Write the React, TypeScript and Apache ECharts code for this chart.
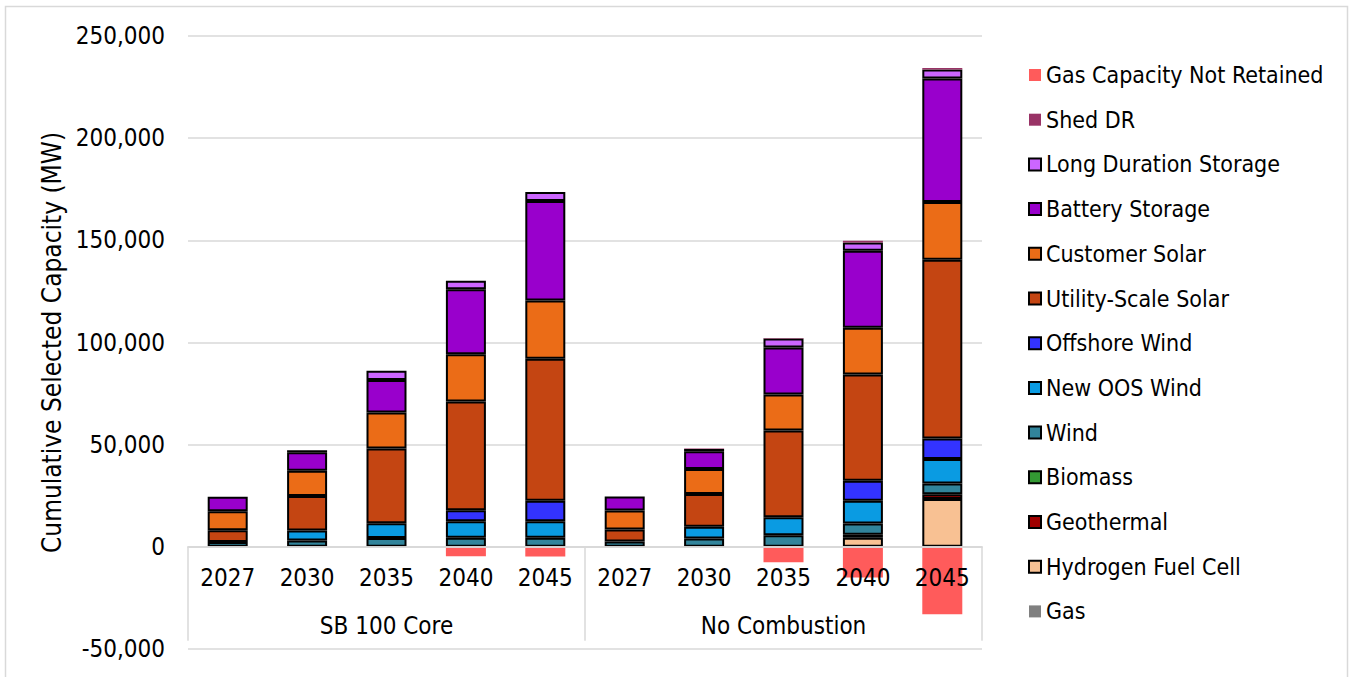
import React, { useEffect, useRef } from 'react';
import * as echarts from 'echarts';

const years = ['2027', '2030', '2035', '2040', '2045'];
const scenarios = ['SB 100 Core', 'No Combustion'];
const yTicks = { min: -50000, max: 250000, interval: 50000 };

// values per category: SB 100 Core 2027..2045, then No Combustion 2027..2045 (MW)
const gas = [0, 0, 0, 0, 0, 0, 0, 0, 0, 0];
const hydrogenFuelCell = [0, 0, 0, 0, 0, 0, 0, 0, 4400, 23400];
const geothermal = [0, 0, 0, 0, 0, 0, 0, 0, 1500, 2300];
const biomass = [0, 0, 0, 0, 0, 0, 0, 0, 0, 0];
const wind = [2400, 3100, 4300, 4400, 4400, 2600, 4100, 5700, 5500, 5300];
const newOosWind = [0, 4900, 7300, 8100, 8100, 0, 5700, 8800, 11200, 12000];
const offshoreWind = [0, 0, 0, 5400, 10000, 0, 0, 0, 9700, 10000];
const utilitySolar = [5700, 16900, 36500, 53200, 69600, 5900, 16000, 42400, 52000, 87500];
const customerSolar = [9300, 12300, 17600, 23100, 28400, 9300, 12300, 17600, 22900, 28200];
const batteryStorage = [7100, 9100, 16000, 31800, 48700, 6800, 8700, 23000, 37700, 60500];
const longDurationStorage = [0, 1000, 4500, 4200, 4400, 0, 1100, 4400, 4100, 4400];
const shedDR = [0, 0, 0, 0, 0, 0, 200, 300, 800, 800];
const gasNotRetained = [0, 0, 0, -4600, -4700, 0, 0, -7600, -15000, -33000];

const seriesDefs = [
  { name: 'Gas', data: gas, color: '#808080', border: false },
  { name: 'Hydrogen Fuel Cell', data: hydrogenFuelCell, color: '#F8C193', border: true },
  { name: 'Geothermal', data: geothermal, color: '#A00000', border: true },
  { name: 'Biomass', data: biomass, color: '#339933', border: true },
  { name: 'Wind', data: wind, color: '#31849B', border: true },
  { name: 'New OOS Wind', data: newOosWind, color: '#0A9BE2', border: true },
  { name: 'Offshore Wind', data: offshoreWind, color: '#3333FF', border: true },
  { name: 'Utility-Scale Solar', data: utilitySolar, color: '#C44512', border: true },
  { name: 'Customer Solar', data: customerSolar, color: '#EB6C17', border: true },
  { name: 'Battery Storage', data: batteryStorage, color: '#9900CC', border: true },
  { name: 'Long Duration Storage', data: longDurationStorage, color: '#CC66FF', border: true },
  { name: 'Shed DR', data: shedDR, color: '#993366', border: false },
  { name: 'Gas Capacity Not Retained', data: gasNotRetained, color: '#FF5B5B', border: false },
];

const FONT = "'DejaVu Sans Condensed', 'Liberation Sans', sans-serif";
const GRID_TOP = 36;
const GRID_BOTTOM = 28;
const CHART_H = 677;

export default function App() {
  const ref = useRef<HTMLDivElement>(null);
  useEffect(() => {
    const chart = echarts.init(ref.current!, null, { renderer: 'svg' });
    const categories = scenarios.flatMap((s) => years.map((y) => s + '|' + y));
    // distance (px) from grid bottom (min value) up to the zero line
    const gridH = CHART_H - GRID_TOP - GRID_BOTTOM;
    const zeroOffset = (gridH * (0 - yTicks.min)) / (yTicks.max - yTicks.min);
    chart.setOption({
      animation: false,
      backgroundColor: '#ffffff',
      textStyle: { fontFamily: FONT },
      grid: {
        left: 188,
        right: 369,
        top: GRID_TOP,
        bottom: GRID_BOTTOM,
        containLabel: false,
        outerBoundsMode: 'none',
      },
      graphic: [
        {
          type: 'rect',
          shape: { x: 5.5, y: 6.5, width: 1342, height: 720 },
          style: { fill: 'none', stroke: '#d9d9d9', lineWidth: 1.5 },
          silent: true,
        },
      ],
      legend: {
        orient: 'vertical',
        left: 1023,
        top: 58,
        icon: 'rect',
        itemWidth: 12,
        itemHeight: 12,
        itemGap: 20.7,
        textStyle: { fontFamily: FONT, fontSize: 23, color: '#000', lineHeight: 24 },
        data: seriesDefs.map((d) => d.name).reverse(),
      },
      xAxis: [
        {
          type: 'category',
          data: categories,
          position: 'bottom',
          offset: -zeroOffset,
          z: 10,
          axisLine: { onZero: false, lineStyle: { color: '#d9d9d9', width: 1.5 } },
          axisTick: { show: false },
          axisLabel: {
            fontFamily: FONT,
            fontSize: 24,
            color: '#000',
            margin: 19,
            interval: 0,
            formatter: (v: string) => v.split('|')[1],
          },
        },
        {
          type: 'category',
          data: scenarios,
          position: 'bottom',
          offset: -zeroOffset,
          z: 10,
          axisLine: { onZero: false, lineStyle: { color: '#d9d9d9', width: 1.5 } },
          axisTick: { show: true, length: 94, lineStyle: { color: '#d9d9d9', width: 1.5 } },
          axisLabel: { fontFamily: FONT, fontSize: 24, color: '#000', margin: 67, interval: 0 },
        },
      ],
      yAxis: {
        type: 'value',
        min: yTicks.min,
        max: yTicks.max,
        interval: yTicks.interval,
        name: 'Cumulative Selected Capacity (MW)',
        nameLocation: 'middle',
        nameRotate: 90,
        nameGap: 117,
        nameTextStyle: { fontFamily: FONT, fontSize: 26, color: '#000' },
        axisLine: { show: false },
        axisTick: { show: false },
        splitLine: { lineStyle: { color: '#d9d9d9', width: 1.5 } },
        axisLabel: {
          fontFamily: FONT,
          fontSize: 24,
          color: '#000',
          margin: 23,
          formatter: (v: number) => v.toLocaleString('en-US'),
        },
      },
      series: seriesDefs.map((d) => ({
        name: d.name,
        type: 'bar',
        stack: 'total',
        xAxisIndex: 0,
        barWidth: 40,
        data: d.data.map((v) => (v === 0 ? null : v)),
        itemStyle: {
          color: d.color,
          borderColor: d.border ? '#000000' : d.color,
          borderWidth: d.border ? 2 : 0,
        },
      })),
    });
    return () => chart.dispose();
  }, []);
  return (
    <div
      ref={ref}
      style={{ position: 'fixed', left: 0, top: 0, width: 1351, height: CHART_H, background: '#fff' }}
    />
  );
}
